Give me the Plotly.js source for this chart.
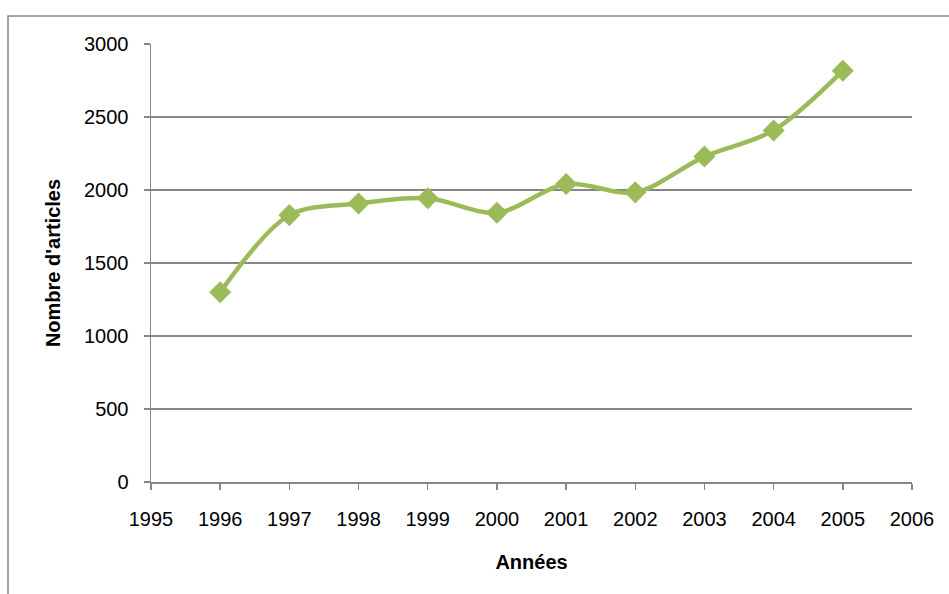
<!DOCTYPE html>
<html>
<head>
<meta charset="utf-8">
<script src="https://cdn.plot.ly/plotly-3.0.1.min.js"></script>
<style>html,body{margin:0;padding:0;background:#fff;}#chart{width:949px;height:594px;}</style>
</head>
<body>
<div id="chart"></div>
<script>
var years = [1996, 1997, 1998, 1999, 2000, 2001, 2002, 2003, 2004, 2005];
var articles = [1300, 1828, 1908, 1943, 1844, 2041, 1984, 2229, 2408, 2817];
var xTicks = [1995, 1996, 1997, 1998, 1999, 2000, 2001, 2002, 2003, 2004, 2005, 2006];
var yTicks = [0, 500, 1000, 1500, 2000, 2500, 3000];
var xTitle = "Années";
var yTitle = "Nombre d'articles";

var green = "#9BBB59";
var gray = "#868686";
var font = "Liberation Sans, Arial, sans-serif";

var trace = {
  x: years,
  y: articles,
  type: "scatter",
  mode: "lines+markers",
  line: {color: green, width: 4.5, shape: "spline", smoothing: 0.9},
  marker: {symbol: "diamond", size: 17, color: green},
  hoverinfo: "x+y"
};

var layout = {
  width: 949,
  height: 594,
  margin: {l: 151, r: 37, t: 44, b: 112},
  paper_bgcolor: "#fff",
  plot_bgcolor: "#fff",
  showlegend: false,
  font: {family: font, size: 20, color: "#000"},
  xaxis: {
    range: [1995, 2006],
    tickvals: xTicks,
    ticktext: xTicks.map(String),
    showgrid: false,
    zeroline: false,
    showline: true,
    linecolor: gray,
    linewidth: 1.5,
    ticks: "outside",
    ticklen: 6,
    tickwidth: 1.5,
    tickcolor: gray,
    ticklabelstandoff: 12,
    tickfont: {family: font, size: 20, color: "#000"},
    title: {text: "<b>" + xTitle + "</b>", font: {family: font, size: 20, color: "#000"}, standoff: 26}
  },
  yaxis: {
    range: [0, 3000],
    tickvals: yTicks,
    ticktext: yTicks.map(String),
    showgrid: true,
    gridcolor: gray,
    gridwidth: 1.5,
    zeroline: false,
    showline: true,
    linecolor: gray,
    linewidth: 1.5,
    ticks: "outside",
    ticklen: 6,
    tickwidth: 1.5,
    tickcolor: gray,
    ticklabelstandoff: 11,
    tickfont: {family: font, size: 20, color: "#000"},
    title: {text: "<b>" + yTitle + "</b>", font: {family: font, size: 20, color: "#000"}, standoff: 18}
  },
  shapes: [{
    type: "rect",
    xref: "paper", yref: "paper",
    x0: -0.1879, x1: 1.2, y0: -0.5, y1: 1.0639,
    line: {color: gray, width: 1.5},
    layer: "below"
  }]
};

Plotly.newPlot("chart", [trace], layout, {displayModeBar: false, staticPlot: true});
</script>
</body>
</html>
